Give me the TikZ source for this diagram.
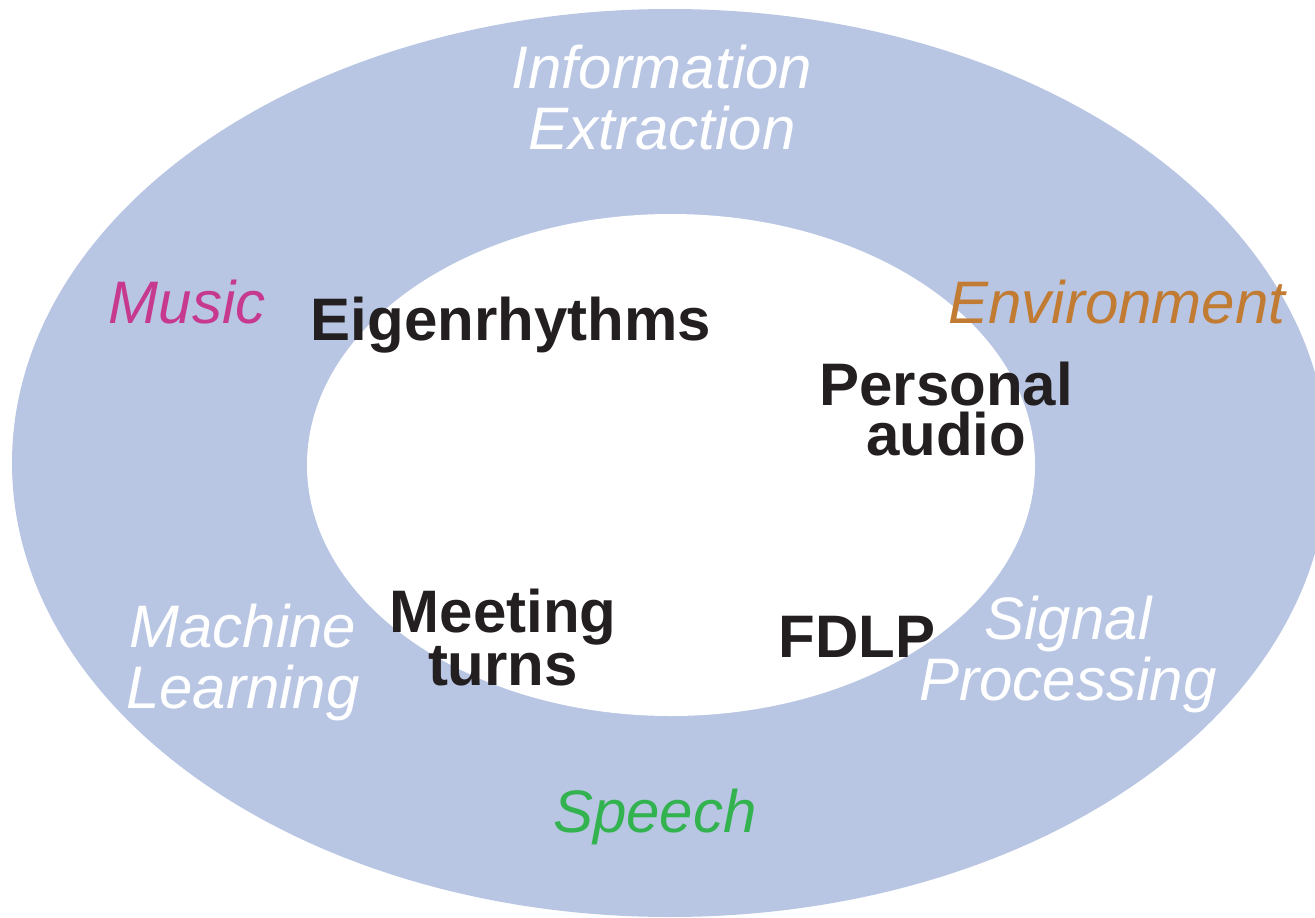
\documentclass[tikz,border=0pt]{standalone}
\usepackage{fontspec}
\setmainfont{Liberation Sans}
\definecolor{ringblue}{HTML}{B8C6E4}
\definecolor{inkblack}{HTML}{231F20}
\definecolor{musicpink}{HTML}{C6398F}
\definecolor{envorange}{HTML}{C17B32}
\definecolor{speechgreen}{HTML}{33B34F}
\begin{document}
\begin{tikzpicture}[x=1pt,y=-1pt,inner sep=0pt,
  field/.style={font=\fontsize{60}{61}\selectfont\itshape,align=center,anchor=base},
  topic/.style={font=\fontsize{60}{50}\selectfont\bfseries,text=inkblack,align=center,anchor=base}]
\useasboundingbox (0,0) rectangle (1315,918);
\fill[ringblue] (670,463) ellipse [x radius=658, y radius=454];
\fill[white] (671,465) ellipse [x radius=364, y radius=251];

% outer ring: fields (y is the baseline of the last line)
\foreach \name/\x/\y/\col/\txt in {info/662/149/white/{Information\\Extraction},
    music/187/323/musicpink/Music,env/1117/323/envorange/Environment,
    ml/243/708/white/{Machine\\Learning},sig/1068/700/white/{Signal\\Processing},
    speech/655/832/speechgreen/Speech}
{
    \node[field,text=\col] (\name) at (\x,\y) {\txt};
}

% inner disc: topics
\foreach \name/\x/\y/\txt in {eigen/511/340/Eigenrhythms,
    personal/946/455/{Personal\\audio},meeting/503/685/{Meeting\\turns},
    fdlp/857/657/FDLP}
{
    \node[topic] (\name) at (\x,\y) {\txt};
}

\end{tikzpicture}
\end{document}
